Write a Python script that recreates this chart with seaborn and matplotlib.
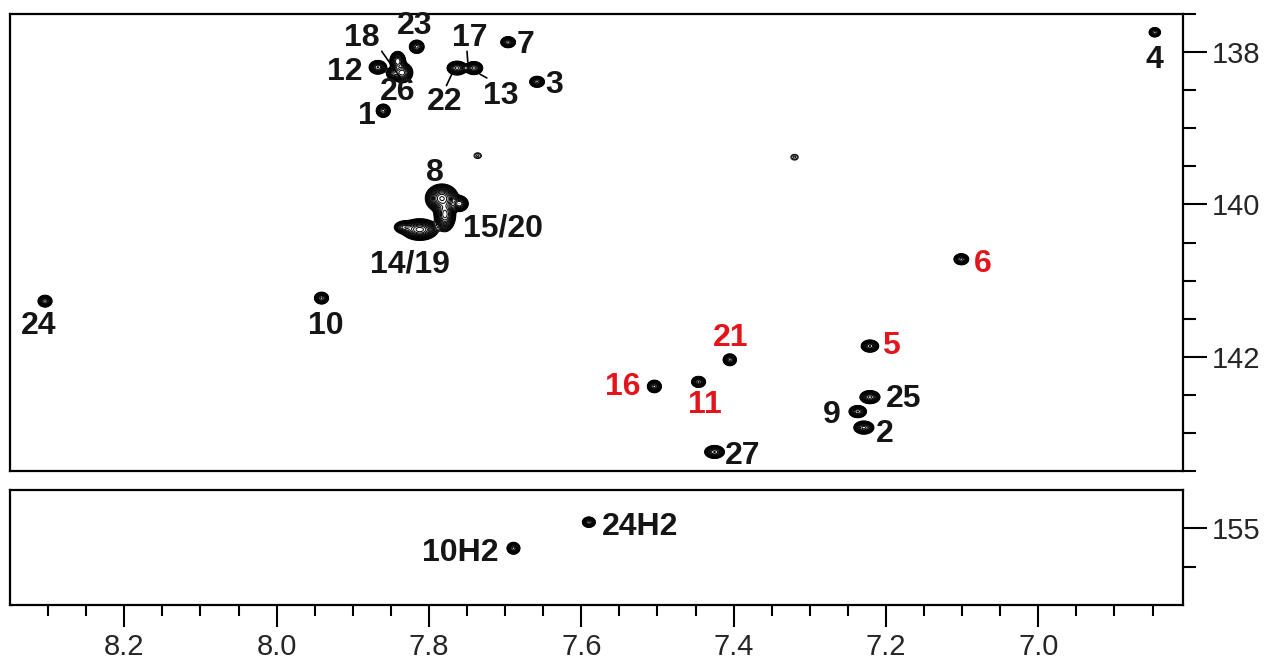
import numpy as np
import matplotlib
matplotlib.use('Agg')
import matplotlib.pyplot as plt
import matplotlib.ticker as mticker
import seaborn as sns

# cross peaks in the 137.5-143.5 ppm window (1H ppm, 13C ppm, height, widths)
peak_h = [8.304, 7.941, 7.867, 7.841, 7.835, 7.846, 7.816, 7.763, 7.741, 7.696, 7.658,
          7.860, 6.847, 7.783, 7.779, 7.760, 7.812, 7.832, 7.736, 7.320, 7.101,
          7.221, 7.221, 7.237, 7.229, 7.405, 7.504, 7.446, 7.425]
peak_c = [141.27, 141.23, 138.20, 138.12, 138.27, 138.28, 137.93, 138.21, 138.21, 137.87, 138.39,
          138.77, 137.74, 139.92, 140.13, 139.99, 140.33, 140.30, 139.36, 139.38, 140.72,
          141.86, 142.53, 142.72, 142.93, 142.04, 142.39, 142.33, 143.25]
peak_amp = [1.0, 1.0, 1.2, 1.5, 1.8, 1.0, 1.0, 1.3, 1.3, 1.0, 1.0,
            1.0, 0.6, 3.5, 3.0, 1.5, 3.0, 1.0, 0.09, 0.09, 1.0,
            1.2, 1.3, 1.2, 1.3, 1.0, 1.0, 1.0, 1.2]
peak_wh = [0.0038, 0.0038, 0.0046, 0.0040, 0.0052, 0.0040, 0.0040, 0.0052, 0.0046, 0.0040, 0.0040,
           0.0038, 0.0034, 0.0075, 0.0050, 0.0045, 0.0085, 0.0055, 0.0045, 0.0045, 0.0040,
           0.0046, 0.0052, 0.0046, 0.0052, 0.0036, 0.0038, 0.0038, 0.0052]
peak_wc = [0.032, 0.032, 0.036, 0.050, 0.050, 0.035, 0.036, 0.036, 0.034, 0.030, 0.030,
           0.036, 0.028, 0.065, 0.080, 0.040, 0.050, 0.034, 0.035, 0.035, 0.030,
           0.032, 0.034, 0.032, 0.034, 0.032, 0.034, 0.030, 0.034]

# cross peaks near 155 ppm
peak2_h = [7.590, 7.689]
peak2_c = [154.92, 155.26]
peak2_amp = [1.0, 1.0]
peak2_wh = [0.0035, 0.0035]
peak2_wc = [0.028, 0.032]

# assignments
labels = ['24', '10', '18', '23', '17', '7', '12', '26', '22', '13', '3', '1', '4',
          '8', '15/20', '14/19', '6', '21', '5', '16', '11', '25', '9', '2', '27']
label_h = [8.313, 7.935, 7.888, 7.819, 7.746, 7.673, 7.910, 7.841, 7.779, 7.706, 7.635,
           7.882, 6.847, 7.792, 7.703, 7.825, 7.073, 7.404, 7.193, 7.546, 7.438, 7.177,
           7.271, 7.202, 7.388]
label_c = [141.59, 141.59, 137.81, 137.66, 137.81, 137.91, 138.26, 138.52, 138.65, 138.58,
           138.43, 138.84, 138.10, 139.59, 140.32, 140.79, 140.78, 141.75, 141.86, 142.40,
           142.64, 142.55, 142.76, 143.02, 143.30]
label_red = ['6', '21', '5', '16', '11']

labels2 = ['24H2', '10H2']
label2_h = [7.523, 7.759]
label2_c = [154.98, 155.32]

# leader lines (h0, c0, h1, c1)
leaders = [(7.862, 137.99, 7.838, 138.33),
           (7.750, 137.99, 7.749, 138.13),
           (7.777, 138.44, 7.770, 138.29),
           (7.733, 138.29, 7.724, 138.34)]

x_major = [8.2, 8.0, 7.8, 7.6, 7.4, 7.2, 7.0]
x_minor = np.arange(8.30, 6.84, -0.05)


def spectrum(h_axis, c_axis, hs, cs, amps, whs, wcs):
    z = np.zeros((len(c_axis), len(h_axis)))
    for h, c, a, sh, sc in zip(hs, cs, amps, whs, wcs):
        z += a * np.outer(np.exp(-0.5 * ((c_axis - c) / sc) ** 2),
                          np.exp(-0.5 * ((h_axis - h) / sh) ** 2))
    return z


sns.set_style("white")
plt.rcParams['font.family'] = ['Liberation Sans', 'DejaVu Sans']

fig = plt.figure(figsize=(12.72, 6.64), dpi=100)
ax1 = fig.add_axes([10 / 1272, 1 - 471 / 664, 1173 / 1272, 457 / 664])
ax2 = fig.add_axes([10 / 1272, 1 - 605 / 664, 1173 / 1272, 115 / 664])

h_axis = np.linspace(6.80, 8.36, 2600)
levels = 0.05 * 1.3 ** np.arange(20)

c_axis = np.linspace(137.4, 143.6, 1000)
z = spectrum(h_axis, c_axis, peak_h, peak_c, peak_amp, peak_wh, peak_wc)
ax1.contour(h_axis, c_axis, z, levels=levels, colors='black', linewidths=0.7)

c_axis2 = np.linspace(154.4, 156.1, 300)
z2 = spectrum(h_axis, c_axis2, peak2_h, peak2_c, peak2_amp, peak2_wh, peak2_wc)
ax2.contour(h_axis, c_axis2, z2, levels=levels, colors='black', linewidths=0.7)

for lab, h, c in zip(labels, label_h, label_c):
    col = '#e3141c' if lab in label_red else '#151515'
    ax1.text(h, c, lab, ha='center', va='center', fontsize=23,
             fontweight='bold', color=col)
for lab, h, c in zip(labels2, label2_h, label2_c):
    ax2.text(h, c, lab, ha='center', va='center', fontsize=23,
             fontweight='bold', color='#151515')
for h0, c0, h1, c1 in leaders:
    ax1.plot([h0, h1], [c0, c1], color='black', lw=1.2)

ax1.set_xlim(8.35, 6.81)
ax1.set_ylim(143.5, 137.5)
ax2.set_xlim(8.35, 6.81)
ax2.set_ylim(156.0, 154.5)

for ax in (ax1, ax2):
    for sp in ax.spines.values():
        sp.set_linewidth(1.6)
        sp.set_color('black')
    ax.yaxis.tick_right()
    ax.tick_params(axis='y', which='both', right=True, left=False,
                   color='black', direction='out', width=1.5)
    ax.tick_params(axis='y', which='major', length=17, labelsize=21, pad=4)
    ax.tick_params(axis='y', which='minor', length=9)

ax1.set_yticks([138, 140, 142])
ax1.yaxis.set_minor_locator(mticker.MultipleLocator(0.5))
ax1.set_xticks([])
ax1.tick_params(axis='x', which='both', bottom=False, labelbottom=False)

ax2.set_yticks([155])
ax2.set_yticks([155.5], minor=True)
ax2.set_xticks(x_major)
ax2.set_xticks(x_minor, minor=True)
ax2.xaxis.set_major_formatter(mticker.FormatStrFormatter('%.1f'))
ax2.tick_params(axis='x', which='both', bottom=True, top=False,
                color='black', direction='out', width=1.5)
ax2.tick_params(axis='x', which='major', length=16, labelsize=21, pad=4)
ax2.tick_params(axis='x', which='minor', length=8)

fig.savefig('out.png', dpi=100)
